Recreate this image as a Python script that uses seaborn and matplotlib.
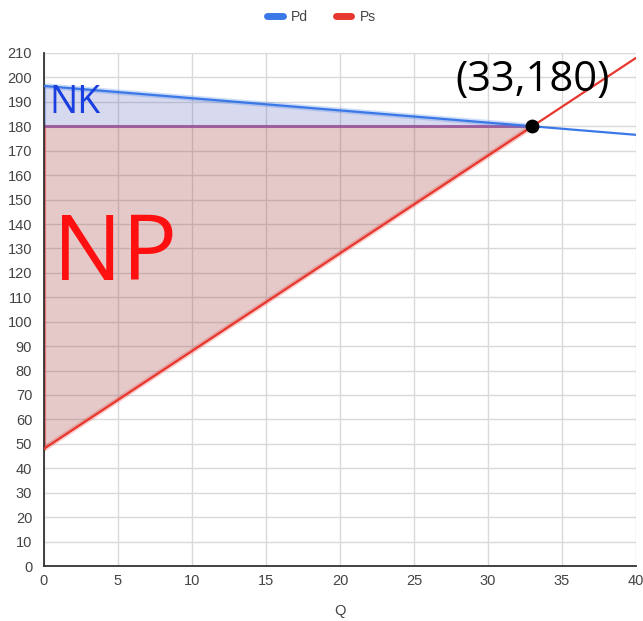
import matplotlib
matplotlib.use("Agg")
import matplotlib.pyplot as plt
from matplotlib.lines import Line2D
import numpy as np
import pandas as pd
import seaborn as sns

# Demand and supply lines (endpoints over the plotted quantity range)
q_line = [0, 40]
pd_line = [196.5, 176.5]
ps_line = [48, 208]

# Equilibrium point
eq_q = 33
eq_p = 180

# Surplus regions (quantity 0 .. equilibrium)
q_area = [0, 33]
pd_area = [196.5, 180]
ps_area = [48, 180]

x_ticks = [0, 5, 10, 15, 20, 25, 30, 35, 40]
y_ticks = list(range(0, 211, 10))

sns.set_theme(style="whitegrid")
plt.rcParams["font.family"] = ["Liberation Sans", "DejaVu Sans"]

fig = plt.figure(figsize=(6.43, 6.21), dpi=100)
ax = fig.add_axes([44 / 643, 1 - 566 / 621, 592 / 643, 513 / 621])

blue = "#3b78e7"
red = "#e8372e"

lines = pd.DataFrame({
    "Q": q_line + q_line,
    "P": pd_line + ps_line,
    "series": ["Pd", "Pd", "Ps", "Ps"],
})

# Consumer surplus (NK) and producer surplus (NP)
ax.fill_between(q_area, pd_area, [eq_p, eq_p], color="#4a55b5", alpha=0.22,
                linewidth=0, zorder=1)
ax.fill_between(q_area, ps_area, [eq_p, eq_p], color="#a33c3c", alpha=0.28,
                linewidth=0, zorder=1)
ax.plot([0, 0], [pd_area[0], eq_p], color=blue, alpha=0.35, lw=3, zorder=2)
ax.plot([0, 0], [ps_area[0], eq_p], color=red, alpha=0.55, lw=3, zorder=2)
ax.plot(q_area, [eq_p, eq_p], color="#8e3f8f", alpha=0.75, lw=2.2, zorder=2)

sns.lineplot(data=lines, x="Q", y="P", hue="series",
             palette={"Pd": blue, "Ps": red}, linewidth=1.6,
             legend=False, ax=ax, zorder=3)
# soft halo along the lines inside the shaded areas
ax.plot(q_area, pd_area, color=blue, alpha=0.25, lw=4, zorder=2)
ax.plot(q_area, ps_area, color=red, alpha=0.25, lw=4, zorder=2)

ax.scatter([eq_q], [eq_p], s=80, color="black", zorder=5)

ax.text(eq_q, 199, "(33,180)", fontsize=30, ha="center", va="center",
        color="black", family=["Open Sans", "DejaVu Sans"])
ax.text(0.35, 189.5, "NK", fontsize=27, ha="left", va="center",
        color="#1a3fe0", family=["Open Sans", "DejaVu Sans"])
ax.text(0.6, 127, "NP", fontsize=66, ha="left", va="center",
        color="#ff1010", family=["Open Sans", "DejaVu Sans"])

ax.set_xlim(0, 40)
ax.set_ylim(0, 210)
ax.set_xticks(x_ticks)
ax.set_yticks(y_ticks)
ax.grid(True, color="#d9d9d9", linewidth=1)
ax.set_axisbelow(True)
for side in ["top", "right"]:
    ax.spines[side].set_visible(False)
for side in ["left", "bottom"]:
    ax.spines[side].set_visible(True)
    ax.spines[side].set_color("#333333")
    ax.spines[side].set_linewidth(1.3)
ax.tick_params(axis="y", direction="inout", length=13, width=1.2,
               color="#333333", labelsize=10.5, labelcolor="#444444", pad=2)
ax.tick_params(axis="x", length=0, labelsize=10.5, labelcolor="#444444", pad=6)
ax.set_xlabel("Q", fontsize=10.5, color="#444444", labelpad=11)
ax.set_ylabel("")

handles = [Line2D([0], [0], color=blue, lw=5, solid_capstyle="round"),
           Line2D([0], [0], color=red, lw=5, solid_capstyle="round")]
fig.legend(handles, ["Pd", "Ps"], loc="center", bbox_to_anchor=(0.5, 1 - 17 / 621),
           ncol=2, frameon=False, fontsize=10, handlelength=1.1,
           columnspacing=2.0, handletextpad=0.6, labelcolor="#444444")

fig.savefig("out.png", dpi=100)
